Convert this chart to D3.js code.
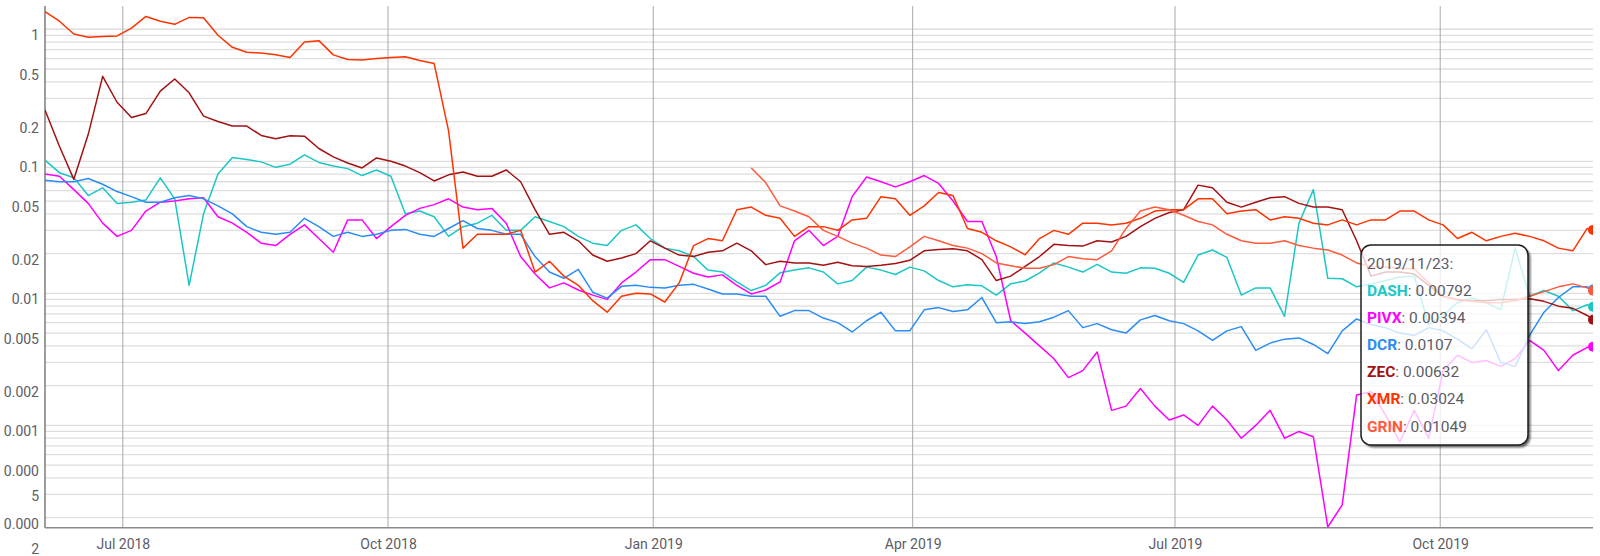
<!DOCTYPE html>
<html>
<head>
<meta charset="utf-8">
<script src="https://cdn.jsdelivr.net/npm/d3@7"></script>
<style>
  body { margin: 0; background: #fff; }
  svg { display: block; font-family: Roboto, "Noto Sans", sans-serif; }
</style>
</head>
<body>
<div id="chart"></div>
<script>
const margin = {top: 6, right: 7, bottom: 28.3, left: 45},
      width = 1600 - margin.left - margin.right,
      height = 556 - margin.top - margin.bottom;

// samples every 5 days from 2018-06-04, then the last day (2019-11-23)
const startDate = new Date(Date.UTC(2018, 5, 4));
const endDate = new Date(Date.UTC(2019, 10, 23));
const stepDays = 5;

const dash = [
  0.102, 0.082, 0.075, 0.055, 0.063, 0.048, 0.049, 0.051, 0.075, 0.052,
  0.0115, 0.040, 0.080, 0.107, 0.103, 0.099, 0.090, 0.095, 0.112, 0.098,
  0.092, 0.088, 0.078, 0.086, 0.077, 0.040, 0.042, 0.038, 0.027, 0.032,
  0.034, 0.039, 0.030, 0.030, 0.038, 0.035, 0.032, 0.027, 0.024, 0.023,
  0.030, 0.033, 0.026, 0.022, 0.021, 0.019, 0.015, 0.0145, 0.0122, 0.0105,
  0.0115, 0.0143, 0.015, 0.0156, 0.0145, 0.0118, 0.0125, 0.0158, 0.015, 0.0139,
  0.0158, 0.0148, 0.0125, 0.0112, 0.0116, 0.0114, 0.0097, 0.0118, 0.0124, 0.0143,
  0.017, 0.0158, 0.0145, 0.0166, 0.0145, 0.0142, 0.0156, 0.0155, 0.0142, 0.0121,
  0.0195, 0.0213, 0.0187, 0.0097, 0.011, 0.011, 0.0067, 0.034, 0.061, 0.013,
  0.0129, 0.0112, 0.0118, 0.0125, 0.0133, 0.0135, 0.0058, 0.0068, 0.0085, 0.0092,
  0.0085, 0.0075, 0.022, 0.0095, 0.0105, 0.0095, 0.0074, 0.0082,
  0.00792
];

const pivx = [
  0.080, 0.077, 0.061, 0.048, 0.034, 0.027, 0.030, 0.042, 0.049, 0.050,
  0.052, 0.053, 0.038, 0.034, 0.029, 0.024, 0.023, 0.028, 0.033, 0.026,
  0.0205, 0.036, 0.036, 0.026, 0.032, 0.039, 0.044, 0.047, 0.052, 0.045,
  0.043, 0.044, 0.034, 0.019, 0.014, 0.011, 0.012, 0.0106, 0.0097, 0.009,
  0.012, 0.0145, 0.018, 0.018, 0.016, 0.0142, 0.0133, 0.0138, 0.0115, 0.0099,
  0.0106, 0.0122, 0.025, 0.030, 0.023, 0.027, 0.054, 0.076, 0.070, 0.064,
  0.070, 0.078, 0.068, 0.050, 0.035, 0.035, 0.019, 0.0062, 0.005, 0.004,
  0.0032, 0.0023, 0.0026, 0.0036, 0.0013, 0.0014, 0.0019, 0.0014, 0.0011, 0.0012,
  0.001, 0.0014, 0.0011, 0.0008, 0.001, 0.0013, 0.0008, 0.0009, 0.00082, 0.00017,
  0.00025, 0.0017, 0.0018, 0.0012, 0.00075, 0.0013, 0.0008, 0.0026, 0.0034, 0.003,
  0.0031, 0.0028, 0.0032, 0.0044, 0.0037, 0.0026, 0.0034, 0.0039,
  0.00394
];

const dcr = [
  0.072, 0.070, 0.070, 0.074, 0.067, 0.059, 0.054, 0.049, 0.049, 0.053,
  0.055, 0.052, 0.046, 0.040, 0.032, 0.029, 0.028, 0.029, 0.037, 0.032,
  0.027, 0.029, 0.027, 0.028, 0.030, 0.0305, 0.028, 0.027, 0.031, 0.0355,
  0.031, 0.030, 0.028, 0.028, 0.019, 0.0145, 0.013, 0.0152, 0.0102, 0.0092,
  0.0113, 0.0115, 0.0111, 0.011, 0.0115, 0.0117, 0.0108, 0.0099, 0.0099, 0.0095,
  0.0095, 0.0067, 0.0074, 0.0074, 0.0065, 0.006, 0.0051, 0.0062, 0.0072, 0.0052,
  0.0052, 0.0075, 0.0078, 0.0073, 0.0075, 0.0093, 0.006, 0.0061, 0.0059, 0.0061,
  0.0066, 0.0074, 0.0055, 0.0059, 0.0053, 0.005, 0.0063, 0.0068, 0.0062, 0.0059,
  0.0052, 0.0044, 0.0052, 0.0056, 0.0037, 0.0042, 0.0045, 0.0046, 0.0041, 0.0035,
  0.0052, 0.0064, 0.0058, 0.0055, 0.005, 0.0048, 0.0055, 0.0052, 0.0045, 0.0038,
  0.0053, 0.0030, 0.0028, 0.0048, 0.0072, 0.0093, 0.0112, 0.0112,
  0.0107
];

const zec = [
  0.245, 0.13, 0.073, 0.16, 0.44, 0.28, 0.215, 0.23, 0.34, 0.42,
  0.33, 0.22, 0.20, 0.185, 0.185, 0.157, 0.148, 0.156, 0.155, 0.125,
  0.108, 0.097, 0.089, 0.106, 0.100, 0.092, 0.082, 0.071, 0.079, 0.083,
  0.077, 0.077, 0.086, 0.070, 0.043, 0.028, 0.029, 0.025, 0.0195, 0.0175,
  0.0185, 0.020, 0.025, 0.022, 0.0195, 0.019, 0.0205, 0.021, 0.024, 0.021,
  0.0165, 0.0175, 0.017, 0.017, 0.0163, 0.0172, 0.0162, 0.016, 0.0163, 0.0168,
  0.0178, 0.021, 0.0215, 0.0218, 0.021, 0.018, 0.0125, 0.0135, 0.016, 0.019,
  0.0235, 0.023, 0.0228, 0.025, 0.0245, 0.027, 0.032, 0.037, 0.041, 0.043,
  0.066, 0.063, 0.049, 0.045, 0.049, 0.053, 0.054, 0.048, 0.045, 0.045,
  0.043, 0.025, 0.0135, 0.0145, 0.0145, 0.014, 0.0115, 0.0095, 0.009, 0.0088,
  0.0088, 0.009, 0.009, 0.0091, 0.0087, 0.008, 0.0077, 0.0068,
  0.00632
];

const xmr = [
  1.36, 1.15, 0.92, 0.87, 0.88, 0.89, 1.02, 1.25, 1.15, 1.09,
  1.23, 1.22, 0.90, 0.73, 0.67, 0.66, 0.64, 0.61, 0.80, 0.82,
  0.64, 0.59, 0.585, 0.60, 0.61, 0.62, 0.58, 0.55, 0.17, 0.022,
  0.028, 0.028, 0.028, 0.030, 0.0145, 0.0175, 0.0135, 0.0115, 0.0088, 0.0072,
  0.0095, 0.0100, 0.0099, 0.0086, 0.012, 0.023, 0.026, 0.025, 0.043, 0.045,
  0.039, 0.037, 0.027, 0.032, 0.032, 0.030, 0.036, 0.037, 0.054, 0.052,
  0.039, 0.046, 0.058, 0.055, 0.031, 0.029, 0.025, 0.0225, 0.0196, 0.026,
  0.030, 0.028, 0.034, 0.034, 0.033, 0.034, 0.037, 0.042, 0.043, 0.043,
  0.052, 0.052, 0.040, 0.042, 0.043, 0.036, 0.038, 0.037, 0.034, 0.033,
  0.036, 0.033, 0.036, 0.036, 0.042, 0.042, 0.036, 0.033, 0.026, 0.029,
  0.025, 0.027, 0.0285, 0.027, 0.025, 0.022, 0.021, 0.031,
  0.03024
];

// GRIN starts later: first value is sample index 49 (2019-02-04)
const grinStartIndex = 49;
const grin = [
  0.089,
  0.069, 0.046, 0.042, 0.038, 0.030, 0.027, 0.024, 0.022, 0.0195, 0.019,
  0.0225, 0.027, 0.025, 0.023, 0.022, 0.020, 0.017, 0.0162, 0.0155, 0.0155,
  0.0165, 0.019, 0.0183, 0.018, 0.021, 0.031, 0.042, 0.045, 0.043, 0.039,
  0.035, 0.033, 0.028, 0.025, 0.024, 0.024, 0.025, 0.023, 0.022, 0.0213,
  0.0195, 0.017, 0.016, 0.0158, 0.0155, 0.0153, 0.012, 0.0095, 0.0089, 0.0087,
  0.0085, 0.0085, 0.0088, 0.0095, 0.0103, 0.0112, 0.0118, 0.0110,
  0.01049
];

const names = ["DASH", "PIVX", "DCR", "ZEC", "XMR", "GRIN"];
const colors = ["#1cc6c6", "#ff00ff", "#2a8cf5", "#a31212", "#ff3300", "#ff5a3c"];
const yLabels = [1, 0.5, 0.2, 0.1, 0.05, 0.02, 0.01, 0.005, 0.002, 0.001, 0.0005, 0.0002];

const dates = d3.range(dash.length - 1)
    .map(i => d3.utcDay.offset(startDate, i * stepDays))
    .concat([endDate]);

const series = [dash, pivx, dcr, zec, xmr, grin].map((vals, k) => {
    const offset = k === 5 ? grinStartIndex : 0;
    return {
        name: names[k],
        color: colors[k],
        points: vals.map((v, i) => ({date: dates[i + offset], value: v}))
    };
});

const svg = d3.select("#chart")
    .append("svg")
    .attr("width", width + margin.left + margin.right)
    .attr("height", height + margin.top + margin.bottom);

const defs = svg.append("defs");
defs.append("clipPath").attr("id", "plot-clip")
    .append("rect").attr("width", width).attr("height", height);

const g = svg.append("g")
    .attr("transform", `translate(${margin.left},${margin.top})`);

const x = d3.scaleUtc()
    .domain([startDate, endDate])
    .range([0, width]);

const y = d3.scaleLog()
    .domain([0.000168, 1.5])
    .range([height, 0]);

// horizontal grid, every 1..9 step of each decade
g.append("g")
    .selectAll("line")
    .data(y.ticks())
    .enter().append("line")
    .attr("x1", 0).attr("x2", width)
    .attr("y1", d => y(d)).attr("y2", d => y(d))
    .attr("stroke", "#dedede")
    .attr("stroke-width", 1.3);

// vertical grid at quarter months
const xTicks = x.ticks(d3.utcMonth.every(3));
g.append("g")
    .selectAll("line")
    .data(xTicks)
    .enter().append("line")
    .attr("x1", d => x(d)).attr("x2", d => x(d))
    .attr("y1", 0).attr("y2", height)
    .attr("stroke", "#a9a9a9")
    .attr("stroke-width", 1);

// y labels (long ones wrap like the original)
const yAxis = g.append("g")
    .call(d3.axisLeft(y).tickValues(yLabels).tickFormat(d3.format("~g")).tickSize(0).tickPadding(6));
yAxis.select(".domain").remove();
yAxis.selectAll("text")
    .attr("fill", "#5c5c66")
    .style("font-size", "14px")
    .style("font-family", "Roboto, sans-serif")
    .attr("dy", "0.75em")
    .each(function() {
        const t = d3.select(this);
        const s = t.text();
        if (s.length > 5) {
            t.text(null);
            t.append("tspan").attr("x", -6).text(s.slice(0, 5));
            t.append("tspan").attr("x", -6).attr("dy", 25).text(s.slice(5));
        }
    });

// x labels
const xAxis = g.append("g")
    .attr("transform", `translate(0,${height})`)
    .call(d3.axisBottom(x).tickValues(xTicks).tickFormat(d3.utcFormat("%b %Y")).tickSize(0).tickPadding(11.5));
xAxis.select(".domain").remove();
xAxis.selectAll("text")
    .attr("fill", "#5c5c66")
    .style("font-size", "14px")
    .style("font-family", "Roboto, sans-serif");

// axis lines
g.append("line")
    .attr("x1", 0).attr("x2", 0).attr("y1", 0).attr("y2", height)
    .attr("stroke", "#7a7a7a").attr("stroke-width", 1.5);
g.append("line")
    .attr("x1", 0).attr("x2", width).attr("y1", height).attr("y2", height)
    .attr("stroke", "#8a8a8a").attr("stroke-width", 1.5);

const line = d3.line()
    .x(d => x(d.date))
    .y(d => y(d.value));

const plot = g.append("g").attr("clip-path", "url(#plot-clip)");

plot.selectAll(".series")
    .data(series)
    .enter().append("path")
    .attr("class", "series")
    .attr("d", d => line(d.points))
    .attr("fill", "none")
    .attr("stroke", d => d.color)
    .attr("stroke-width", 1.5)
    .attr("stroke-linejoin", "round");

plot.selectAll(".last-dot")
    .data(series)
    .enter().append("circle")
    .attr("class", "last-dot")
    .attr("cx", d => x(d.points[d.points.length - 1].date))
    .attr("cy", d => y(d.points[d.points.length - 1].value))
    .attr("r", 5)
    .attr("fill", d => d.color);

// tooltip for the last day
const tipX = 1316, tipY = 239, tipW = 167, tipH = 200, tipR = 10;

const blur = defs.append("filter").attr("id", "tip-blur")
    .attr("x", "-20%").attr("y", "-20%").attr("width", "140%").attr("height", "140%");
blur.append("feGaussianBlur").attr("stdDeviation", 1.3);

const mask = defs.append("mask").attr("id", "tip-outside")
    .attr("maskUnits", "userSpaceOnUse")
    .attr("x", -20).attr("y", -20).attr("width", tipW + 40).attr("height", tipH + 40);
mask.append("rect").attr("x", -20).attr("y", -20)
    .attr("width", tipW + 40).attr("height", tipH + 40).attr("fill", "#fff");
mask.append("rect").attr("width", tipW).attr("height", tipH).attr("rx", tipR).attr("fill", "#000");

const tip = g.append("g").attr("transform", `translate(${tipX},${tipY})`);

tip.append("g").attr("mask", "url(#tip-outside)")
    .append("rect")
    .attr("x", 2.5).attr("y", 2.5)
    .attr("width", tipW).attr("height", tipH).attr("rx", tipR)
    .attr("fill", "#000").attr("opacity", 0.6)
    .attr("filter", "url(#tip-blur)");

tip.append("rect")
    .attr("width", tipW).attr("height", tipH).attr("rx", tipR)
    .attr("fill", "rgba(255,255,255,0.76)")
    .attr("stroke", "#1e1e1e")
    .attr("stroke-width", 1.5);

tip.append("text")
    .attr("x", 6).attr("y", 24)
    .attr("fill", "#5c5c66")
    .style("font-size", "15.5px")
    .text(d3.utcFormat("%Y/%m/%d")(endDate) + ":");

const rows = tip.selectAll(".row")
    .data(series)
    .enter().append("text")
    .attr("class", "row")
    .attr("x", 6)
    .attr("y", (d, i) => 50.5 + i * 27.2)
    .style("font-size", "15.5px");
rows.append("tspan")
    .attr("fill", d => d.color)
    .attr("font-weight", "bold")
    .text(d => d.name);
rows.append("tspan")
    .attr("fill", "#5c5c66")
    .text(d => ": " + d.points[d.points.length - 1].value);
</script>
</body>
</html>
